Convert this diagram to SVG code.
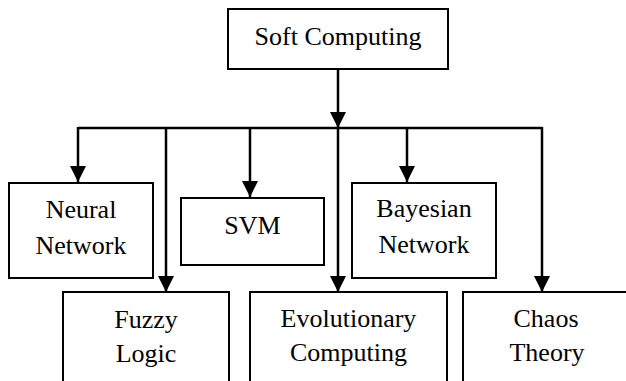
<svg xmlns="http://www.w3.org/2000/svg" width="626" height="381" viewBox="0 0 626 381">
<style>
.box{fill:#fff;stroke:#000;stroke-width:2}
.t{font-family:'Liberation Serif','Times New Roman','DejaVu Serif',Times,serif;font-size:26px;fill:#000;text-anchor:middle}
.c{fill:none;stroke:#000;stroke-width:2.5}
</style>
<defs>
<marker id="ah" markerUnits="userSpaceOnUse" markerWidth="16" markerHeight="16" refX="16" refY="8" orient="auto" viewBox="0 0 16 16">
<path d="M0,0 L16,8 L0,16 z" fill="#000"/>
</marker>
</defs>
<rect width="626" height="381" fill="#fff"/>
<g id="connectors">
<line class="c" x1="338" y1="69" x2="338" y2="128" marker-end="url(#ah)"/>
<line class="c" x1="78" y1="128" x2="542" y2="128"/>
<line class="c" x1="78" y1="127" x2="78" y2="182" marker-end="url(#ah)"/>
<line class="c" x1="166" y1="128" x2="166" y2="292" marker-end="url(#ah)"/>
<line class="c" x1="250" y1="128" x2="250" y2="197" marker-end="url(#ah)"/>
<line class="c" x1="338" y1="128" x2="338" y2="292" marker-end="url(#ah)"/>
<line class="c" x1="407" y1="128" x2="407" y2="182" marker-end="url(#ah)"/>
<line class="c" x1="542" y1="127" x2="542" y2="292" marker-end="url(#ah)"/>
</g>
<g id="soft">
<rect class="box" x="228" y="9" width="220" height="60"/>
<text class="t" font-family="Liberation Serif, serif" x="338" y="45">Soft Computing</text>
</g>
<g id="neural">
<rect class="box" x="9" y="183" width="144" height="95"/>
<text class="t" font-family="Liberation Serif, serif" x="81" y="218">Neural</text>
<text class="t" font-family="Liberation Serif, serif" x="81" y="254">Network</text>
</g>
<g id="svm">
<rect class="box" x="181" y="198" width="143" height="67"/>
<text class="t" font-family="Liberation Serif, serif" x="252.5" y="234">SVM</text>
</g>
<g id="bayesian">
<rect class="box" x="352" y="183" width="144" height="95"/>
<text class="t" font-family="Liberation Serif, serif" x="424" y="217">Bayesian</text>
<text class="t" font-family="Liberation Serif, serif" x="424" y="253">Network</text>
</g>
<g id="fuzzy">
<rect class="box" x="63" y="292" width="166" height="100"/>
<text class="t" font-family="Liberation Serif, serif" x="146" y="328">Fuzzy</text>
<text class="t" font-family="Liberation Serif, serif" x="146" y="362">Logic</text>
</g>
<g id="evolutionary">
<rect class="box" x="250" y="292" width="197" height="100"/>
<text class="t" font-family="Liberation Serif, serif" x="348.5" y="327">Evolutionary</text>
<text class="t" font-family="Liberation Serif, serif" x="348.5" y="361">Computing</text>
</g>
<g id="chaos">
<rect class="box" x="463" y="292" width="175" height="100"/>
<text class="t" font-family="Liberation Serif, serif" x="546" y="327">Chaos</text>
<text class="t" font-family="Liberation Serif, serif" x="547" y="361">Theory</text>
</g>
</svg>
